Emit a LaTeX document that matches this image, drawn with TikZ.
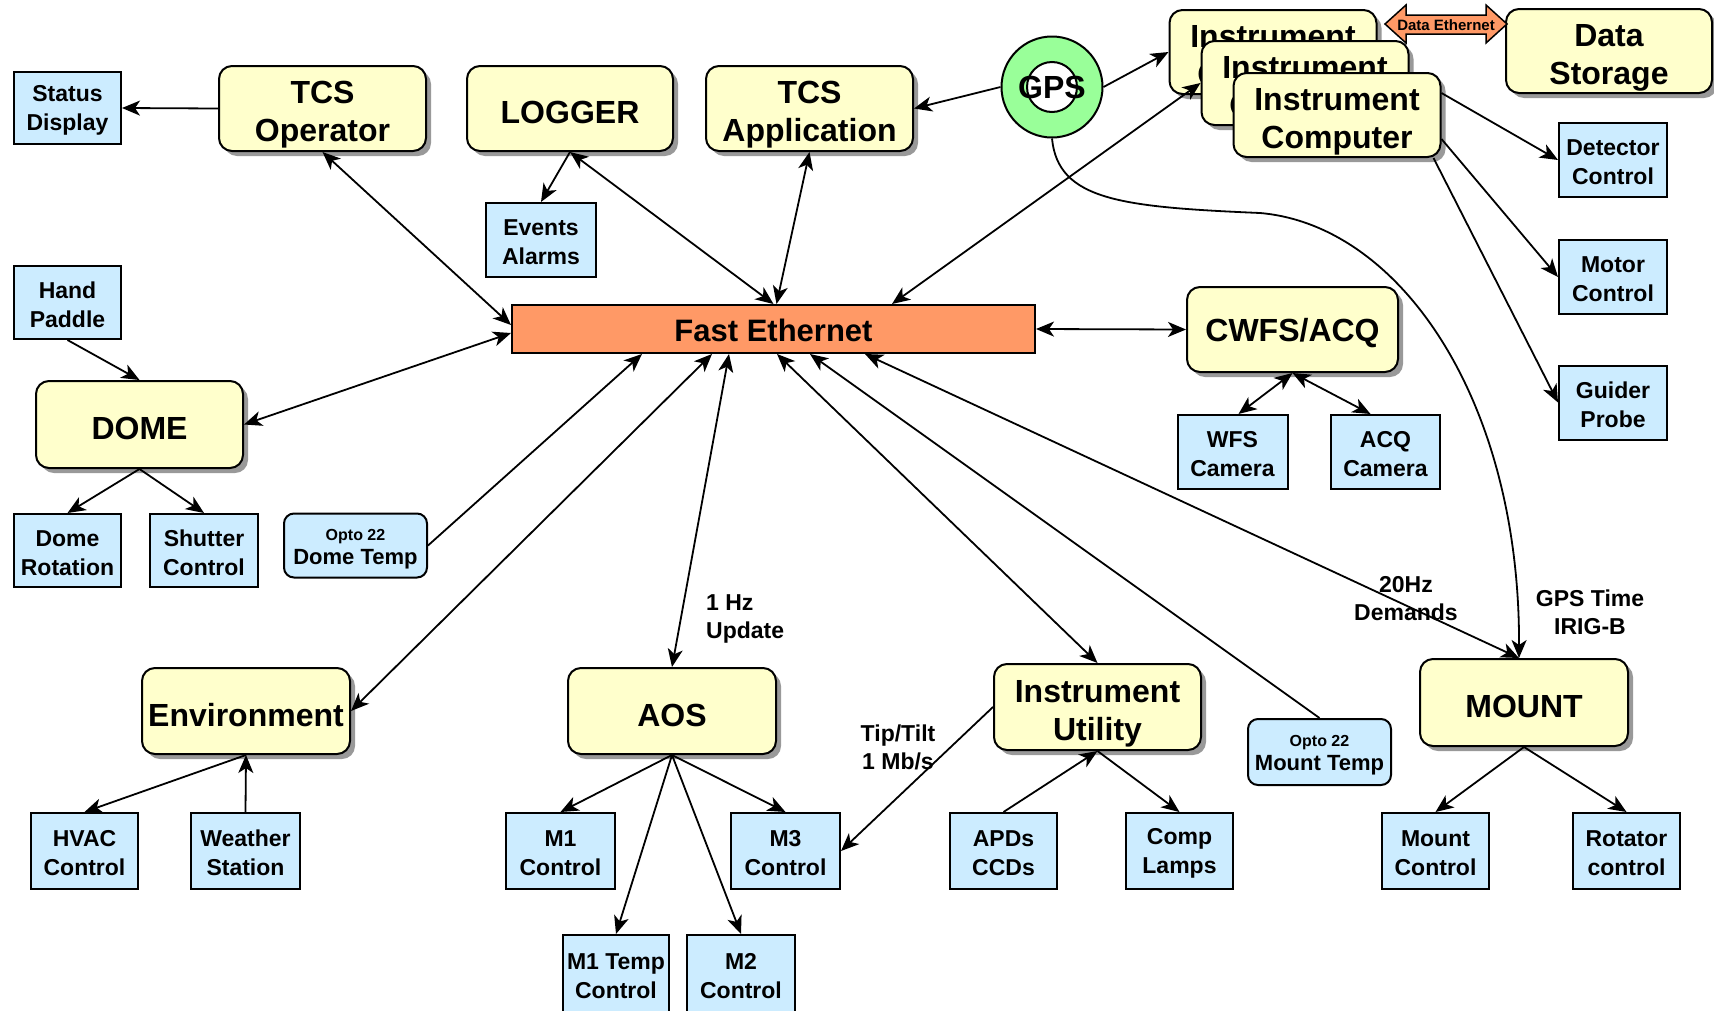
\documentclass[tikz,border=0pt]{standalone}
\usepackage{fontspec}
\setmainfont{Liberation Sans}
\usetikzlibrary{arrows.meta,shadows,calc}
\definecolor{ylw}{HTML}{FFFFCC}
\definecolor{blu}{HTML}{CCECFF}
\definecolor{org}{HTML}{FF9966}
\definecolor{grn}{HTML}{99FF99}
\newcommand\ylwtwo{\rule{0pt}{35pt}}
\newcommand\ylwone{\rule{0pt}{31pt}}
\newcommand\blustr{\rule{0pt}{21pt}}
\newcommand\optostr{\rule{0pt}{18pt}}
\begin{document}
\begin{tikzpicture}[x=1pt,y=-1pt,
  ybox/.style={draw, line width=2pt, fill=ylw, rounded corners=13pt, align=center,
    font=\fontsize{32}{38}\selectfont\bfseries, inner sep=0pt,
    drop shadow={shadow xshift=5pt, shadow yshift=-5pt, fill=black!40, opacity=1}},
  bbox/.style={draw, line width=2pt, fill=blu, align=center,
    font=\fontsize{23}{29}\selectfont\bfseries, inner sep=0pt, minimum width=108pt, minimum height=75pt},
  obox/.style={draw, line width=2pt, fill=blu, align=center, rounded corners=10pt,
    font=\fontsize{22}{24}\selectfont\bfseries, inner sep=0pt, minimum width=143pt, minimum height=64pt},
  lbl/.style={align=center, font=\fontsize{23}{28}\selectfont\bfseries, inner sep=0pt},
  sarr/.style={line width=1.8pt, -{Stealth[length=18pt,width=15pt,inset=5pt]}},
  barr/.style={line width=1.8pt, {Stealth[length=18pt,width=15pt,inset=5pt]}-{Stealth[length=18pt,width=15pt,inset=5pt]}}
]
\fill[white] (0,0) rectangle (1714,1010);
\useasboundingbox (0,0) rectangle (1714,1010);

% yellow boxes
\node[ybox, minimum width=207pt, minimum height=85pt] (tcsop) at (322.5,108.5) {\ylwtwo TCS\\Operator};
\node[ybox, minimum width=206pt, minimum height=85pt] (logger) at (570,108.5) {\ylwone LOGGER};
\node[ybox, minimum width=207pt, minimum height=85pt] (tcsapp) at (809.5,108.5) {\ylwtwo TCS\\Application};
\node[ybox, minimum width=207pt, minimum height=84pt] (ic1) at (1273,52) {\ylwtwo Instrument\\Computer};
\node[ybox, minimum width=207pt, minimum height=84pt] (ic2) at (1305,83) {\ylwtwo Instrument\\Computer};
\node[ybox, minimum width=207pt, minimum height=84pt] (ic3) at (1337,115) {\ylwtwo Instrument\\Computer};
\node[ybox, minimum width=206pt, minimum height=84pt] (datast) at (1609,51) {\ylwtwo Data\\Storage};
\node[ybox, minimum width=211pt, minimum height=85pt] (cwfs) at (1292.5,329.5) {\ylwone CWFS/ACQ};
\node[ybox, minimum width=207pt, minimum height=87pt] (dome) at (139.5,424.5) {\ylwone DOME};
\node[ybox, minimum width=208pt, minimum height=86pt] (env) at (246,711) {\ylwone Environment};
\node[ybox, minimum width=208pt, minimum height=86pt] (aos) at (672,711) {\ylwone AOS};
\node[ybox, minimum width=207pt, minimum height=86pt] (iu) at (1097.5,707) {\ylwtwo Instrument\\Utility};
\node[ybox, minimum width=208pt, minimum height=87pt] (mount) at (1524,702.5) {\ylwone MOUNT};

% GPS
\node[circle, draw, line width=2pt, fill=grn, minimum size=101pt, inner sep=0pt,
  font=\fontsize{32}{38}\selectfont\bfseries,
  path picture={\draw[line width=2pt, fill=white] (path picture bounding box.center) circle (25pt);}]
  (gps) at (1052,87) {GPS};

% Fast Ethernet
\node[draw, line width=2pt, fill=org, minimum width=523pt, minimum height=48pt, inner sep=0pt,
  font=\fontsize{31}{36}\selectfont\bfseries] (fe) at (773.5,329) {\rule{0pt}{26pt}Fast Ethernet};

% Data Ethernet arrow
\draw[line width=1.5pt, fill=org] (1385,24) -- (1406,5) -- (1406,15) -- (1486,15) -- (1486,5)
  -- (1507,24) -- (1486,43) -- (1486,34) -- (1406,34) -- (1406,43) -- cycle;
\node[font=\fontsize{15}{18}\selectfont\bfseries, inner sep=0pt] (deth) at (1446,25) {Data Ethernet};

% blue boxes
\node[bbox, minimum width=107pt, minimum height=72pt] (status) at (67.5,108) {\blustr Status\\Display};
\node[bbox, minimum width=110pt, minimum height=74pt] (events) at (541,240) {\blustr Events\\Alarms};
\node[bbox, minimum height=74pt] (det) at (1613,160) {\blustr Detector\\Control};
\node[bbox, minimum height=74pt] (motor) at (1613,277) {\blustr Motor\\Control};
\node[bbox, minimum height=74pt] (guider) at (1613,402.5) {\blustr Guider\\Probe};
\node[bbox, minimum width=107pt, minimum height=73pt] (hand) at (67.5,302.5) {\blustr Hand\\Paddle};
\node[bbox, minimum width=110pt, minimum height=74pt] (wfs) at (1232.5,452) {\blustr WFS\\Camera};
\node[bbox, minimum width=109pt, minimum height=74pt] (acq) at (1385.5,452) {\blustr ACQ\\Camera};
\node[bbox, minimum width=107pt, minimum height=73pt] (domerot) at (67.5,550.5) {\blustr Dome\\Rotation};
\node[bbox, minimum height=73pt] (shutter) at (204,550.5) {\blustr Shutter\\Control};
\node[obox] (dtemp) at (355.5,545.5) {{\fontsize{16}{18}\selectfont\optostr Opto 22}\\{Dome Temp}};
\node[bbox, minimum width=107pt, minimum height=76pt] (hvac) at (84.5,851) {\blustr HVAC\\Control};
\node[bbox, minimum width=109pt, minimum height=76pt] (weather) at (245.5,851) {\blustr Weather\\Station};
\node[bbox, minimum width=109pt, minimum height=76pt] (m1) at (560.5,851) {\blustr M1\\Control};
\node[bbox, minimum width=109pt, minimum height=76pt] (m3) at (785.5,851) {\blustr M3\\Control};
\node[bbox, minimum width=106pt, minimum height=78pt] (m1t) at (616,974) {\blustr M1 Temp\\Control};
\node[bbox, minimum width=108pt, minimum height=78pt] (m2) at (741,974) {\blustr M2\\Control};
\node[bbox, minimum width=107pt, minimum height=76pt] (apds) at (1003.5,851) {\blustr APDs\\CCDs};
\node[bbox, minimum width=107pt, minimum height=76pt] (comp) at (1179.5,851) {\blustr Comp\\Lamps};
\node[obox, minimum height=66pt] (mtemp) at (1319.5,752) {{\fontsize{16}{18}\selectfont\optostr Opto 22}\\{Mount Temp}};
\node[bbox, minimum width=107pt, minimum height=76pt] (mctl) at (1435.5,851) {\blustr Mount\\Control};
\node[bbox, minimum width=107pt, minimum height=76pt] (rotc) at (1626.5,851) {\blustr Rotator\\control};

% labels
\node[lbl, anchor=west, align=left] (l1hz) at (706,619) {1 Hz\\Update};
\node[lbl] (ltip) at (898,747) {Tip/Tilt\\1 Mb/s};
\node[lbl] (l20hz) at (1406,599) {20Hz\\Demands};
\node[lbl] (lgps) at (1590,612) {GPS Time\\IRIG-B};

% connectors
\draw[sarr] (tcsop.west) -- (status.east);
\draw[barr] (tcsop.south) -- ($(fe.west)+(0,-4)$);
\draw[barr] (logger.south) -- (fe.north);
\draw[sarr] (logger.south) -- (events.north);
\draw[barr] (tcsapp.south) -- ($(fe.north)+(3,0)$);
\draw[sarr] (gps.west) -- (tcsapp.east);
\draw[sarr] (gps.east) -- (ic1.west);
\draw[barr] ($(fe.north west)+(381,0)$) -- (ic2.west);
\draw[sarr] (gps.south) .. controls (1058,200) and (1120,207) .. (1260,213)
  .. controls (1400,225) and (1520,400) .. ($(mount.north)+(-5,0)$);
\draw[sarr] ($(ic3.east)+(0,-22)$) -- (det.west);
\draw[sarr] ($(ic3.east)+(0,24)$) -- (motor.west);
\draw[sarr] ($(ic3.south east)+(-8,0)$) -- (guider.west);
\draw[barr] (fe.east) -- (cwfs.west);
\draw[barr] (cwfs.south) -- ($(wfs.north)+(6,0)$);
\draw[barr] (cwfs.south) -- ($(acq.north)+(-15,0)$);
\draw[sarr] (hand.south) -- (dome.north);
\draw[barr] ($(fe.west)+(0,4)$) -- (dome.east);
\draw[sarr] (dome.south) -- (domerot.north);
\draw[sarr] (dome.south) -- (shutter.north);
\draw[sarr] (dtemp.east) -- ($(fe.south west)+(131,0)$);
\draw[barr] (env.east) -- ($(fe.south west)+(201,0)$);
\draw[barr] (aos.north) -- ($(fe.south west)+(218,0)$);
\draw[barr] (iu.north) -- ($(fe.south west)+(266,0)$);
\draw[sarr] (mtemp.north) -- ($(fe.south west)+(299,0)$);
\draw[barr] ($(mount.north)+(-5,0)$) -- ($(fe.south west)+(354,0)$);
\draw[sarr] (env.south) -- (hvac.north);
\draw[sarr] (weather.north) -- (env.south);
\draw[sarr] (aos.south) -- (m1.north);
\draw[sarr] (aos.south) -- (m3.north);
\draw[sarr] (aos.south) -- (m1t.north);
\draw[sarr] (aos.south) -- (m2.north);
\draw[sarr] (iu.west) -- (m3.east);
\draw[sarr] (apds.north) -- (iu.south);
\draw[sarr] (iu.south) -- (comp.north);
\draw[sarr] (mount.south) -- (mctl.north);
\draw[sarr] (mount.south) -- (rotc.north);
\end{tikzpicture}
\end{document}
